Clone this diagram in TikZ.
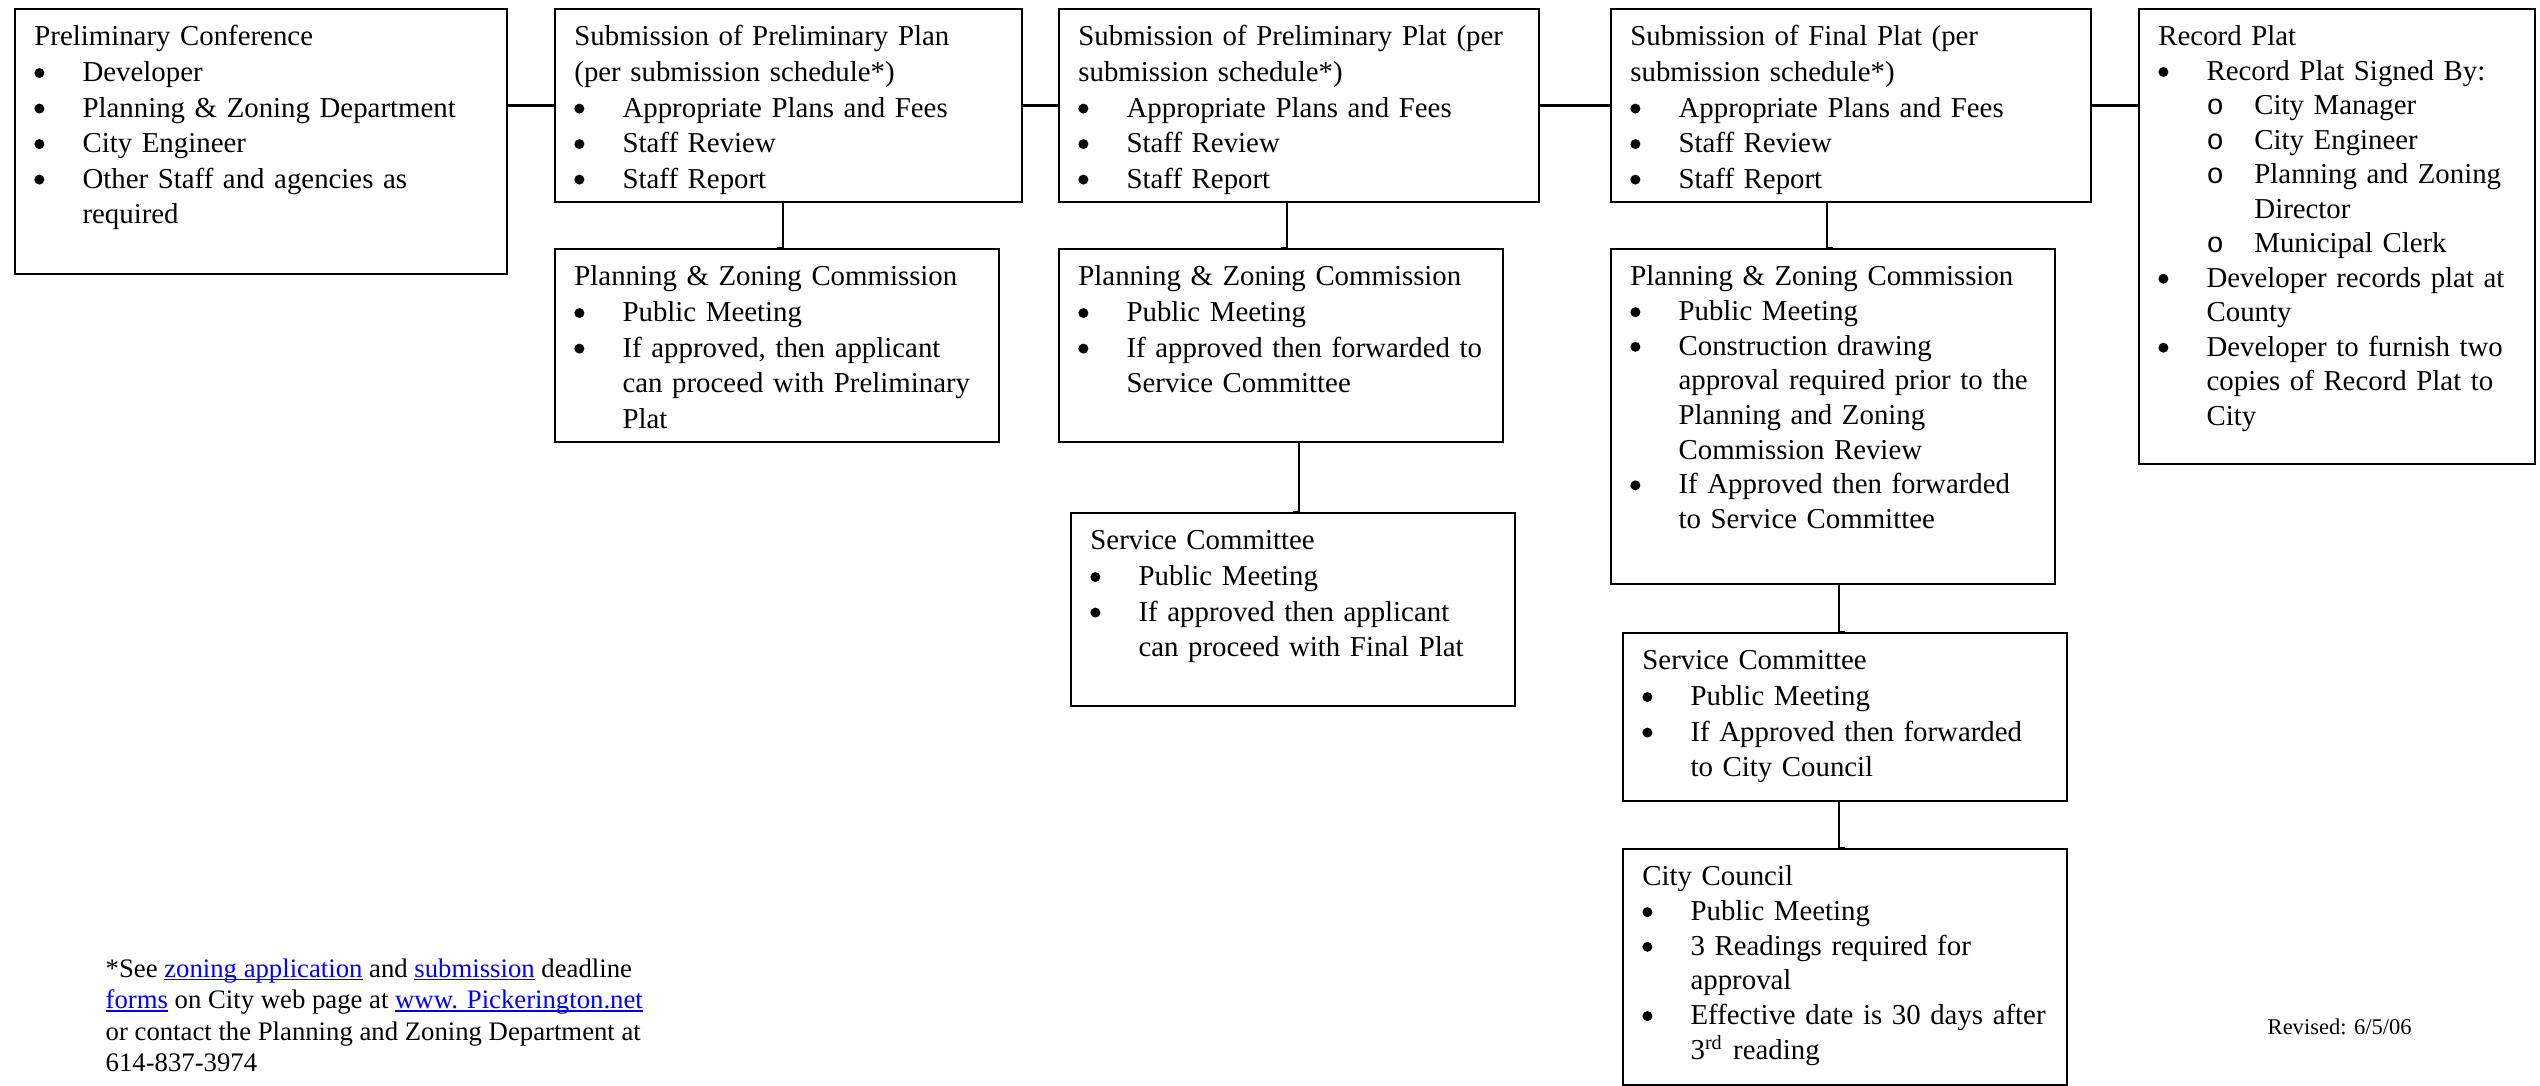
\documentclass[tikz,border=0pt]{standalone}
\usepackage{fontspec}
\setmainfont{Liberation Serif}
\setmonofont{Liberation Mono}

\newcommand{\boxfont}[1][10.1]{\fontsize{8.2}{#1}\selectfont\hyphenpenalty=10000\exhyphenpenalty=10000}
\newcommand{\notefont}{\fontsize{7.6}{8.96}\selectfont}
\newcommand{\dotmark}{\tikz[baseline=0pt]\fill (1.42pt,2.4pt) circle (1.42pt);}
\newcommand{\bl}{\par\hangindent=13.7pt\hangafter=1\makebox[13.7pt][l]{\dotmark}}
\newcommand{\sbl}{\par\hangindent=27.3pt\hangafter=1\hspace*{13.7pt}\makebox[13.6pt][l]{\texttt{o}}}
\newsavebox{\lnkbox}
\newcommand{\lnk}[1]{\textcolor{blue}{\sbox{\lnkbox}{#1}\rlap{\rule[-0.9pt]{\wd\lnkbox}{0.5pt}}\usebox{\lnkbox}}}

\begin{document}
\begin{tikzpicture}[x=0.01cm, y=-0.01cm,
  stage/.style 2 args={draw, line width=0.6pt, anchor=north west, align=left,
    inner xsep=5.5pt, inner ysep=3.4pt, font=\boxfont, text height=7.1pt,
    text width={#1*0.01cm-11pt}, text depth={#2*0.01cm-6.8pt-7.1pt}},
  link/.style={line width=0.6pt}]
\useasboundingbox (0,0) rectangle (2540,1086);

  \node[stage={492}{265}] (Conference) at (14,8) {Preliminary Conference
    \bl Developer
    \bl Planning \& Zoning Department
    \bl City Engineer
    \bl Other Staff and agencies as\newline required\par};
  \node[stage={467}{193}] (PrelimPlan) at (554,8) {Submission of Preliminary Plan\newline (per submission schedule*)
    \bl Appropriate Plans and Fees
    \bl Staff Review
    \bl Staff Report\par};
  \node[stage={480}{193}] (PrelimPlat) at (1058,8) {Submission of Preliminary Plat (per\newline submission schedule*)
    \bl Appropriate Plans and Fees
    \bl Staff Review
    \bl Staff Report\par};
  \node[stage={480}{193}] (FinalPlat) at (1610,8) {Submission of Final Plat (per\newline submission schedule*)
    \bl Appropriate Plans and Fees
    \bl Staff Review
    \bl Staff Report\par};
  \node[stage={396}{455}, font={\boxfont[9.8]}] (RecordPlat) at (2138,8) {Record Plat
    \bl Record Plat Signed By:
    \sbl City Manager
    \sbl City Engineer
    \sbl Planning and Zoning\newline Director
    \sbl Municipal Clerk
    \bl Developer records plat at\newline County
    \bl Developer to furnish two\newline copies of Record Plat to\newline City\par};

  \node[stage={444}{193}] (PZPlan) at (554,248) {Planning \& Zoning Commission
    \bl Public Meeting
    \bl If approved, then applicant\newline can proceed with Preliminary\newline Plat\par};
  \node[stage={444}{193}] (PZPlat) at (1058,248) {Planning \& Zoning Commission
    \bl Public Meeting
    \bl If approved then forwarded to\newline Service Committee\par};
  \node[stage={444}{193}] (ServicePlat) at (1070,512) {Service Committee
    \bl Public Meeting
    \bl If approved then applicant\newline can proceed with Final Plat\par};
  \node[stage={444}{335}, font={\boxfont[9.85]}] (PZFinal) at (1610,248) {Planning \& Zoning Commission
    \bl Public Meeting
    \bl Construction drawing\newline approval required prior to the\newline Planning and Zoning\newline Commission Review
    \bl If Approved then forwarded\newline to Service Committee\par};
  \node[stage={444}{168}] (ServiceFinal) at (1622,632) {Service Committee
    \bl Public Meeting
    \bl If Approved then forwarded\newline to City Council\par};
  \node[stage={444}{236}, font={\boxfont[9.85]}] (Council) at (1622,848) {City Council
    \bl Public Meeting
    \bl 3 Readings required for\newline approval
    \bl Effective date is 30 days after\newline 3\textsuperscript{rd} reading\par};

  \node[anchor=north west, inner sep=0pt, align=left, font=\notefont] (Note) at (105,958)
    {*See \lnk{zoning application} and \lnk{submission} deadline\\
     \lnk{forms} on City web page at \lnk{www. Pickerington.net}\\
     or contact the Planning and Zoning Department at\\
     614-837-3974};
  \node[anchor=base west, inner sep=0pt, font=\fontsize{6.4}{7.6}\selectfont] (Revised) at (2267,1034) {Revised: 6/5/06};

  \draw[link] (PrelimPlan.west) -- (PrelimPlan.west -| Conference.east);
  \draw[link] (PrelimPlan.east) -- (PrelimPlat.west);
  \draw[link] (PrelimPlat.east) -- (FinalPlat.west);
  \draw[link] (FinalPlat.east) -- (FinalPlat.east -| RecordPlat.west);
  \draw[link] ([xshift=-0.06cm]PrelimPlan.south) |- (PZPlan.north);
  \draw[link] ([xshift=-0.125cm]PrelimPlat.south) |- (PZPlat.north);
  \draw[link] ([xshift=0.18cm]PZPlat.south) |- (ServicePlat.north);
  \draw[link] ([xshift=-0.24cm]FinalPlat.south) |- (PZFinal.north);
  \draw[link] ([xshift=0.056cm]PZFinal.south) |- (ServiceFinal.north);
  \draw[link] ([xshift=-0.064cm]ServiceFinal.south) |- (Council.north);
\end{tikzpicture}
\end{document}
